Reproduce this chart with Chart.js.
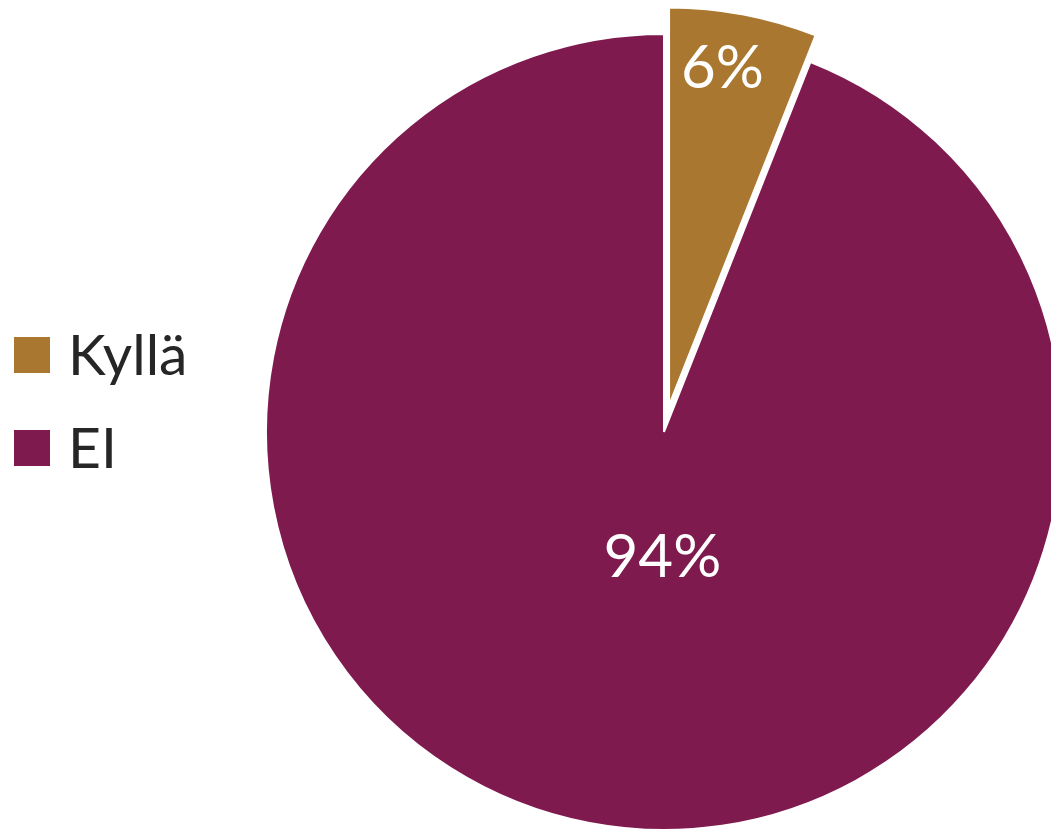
<!DOCTYPE html>
<html>
<head>
<meta charset="utf-8">
<script src="https://cdn.jsdelivr.net/npm/chart.js@4.4.1/dist/chart.umd.min.js"></script>
<style>
    html, body { margin: 0; padding: 0; background: #fff; }
    #wrap { width: 1051px; height: 833px; position: relative; }
</style>
</head>
<body>
<div id="wrap"><canvas id="pieChart"></canvas></div>
<script>
const categories = ["Kyllä", "EI"];
const shares = [6, 94];
const sliceColors = ["#A9772F", "#7F1A4F"];

// how far each slice is pulled out, px
const explode = [27, 0];
// label anchor relative to slice centre, in units of the radius
const labelAnchors = [[0.134, -0.852], [-0.004, 0.31]];

const labelFont = "60px Lato";
const legendFont = "57px Lato";

const pieStyle = {
    id: "pieStyle",
    beforeDatasetDraw(chart, args) {
        const ctx = chart.ctx;
        args.meta.data.forEach((arc, i) => {
            const mid = (arc.startAngle + arc.endAngle) / 2;
            ctx.save();
            ctx.translate(Math.cos(mid) * explode[i], Math.sin(mid) * explode[i]);
            arc.draw(ctx);
            ctx.restore();
        });
        return false;
    },
    afterDatasetsDraw(chart) {
        const ctx = chart.ctx;
        const arcs = chart.getDatasetMeta(0).data;

        // percentage labels
        ctx.save();
        ctx.fillStyle = "#ffffff";
        ctx.font = labelFont;
        ctx.textAlign = "center";
        ctx.textBaseline = "alphabetic";
        arcs.forEach((arc, i) => {
            const mid = (arc.startAngle + arc.endAngle) / 2;
            const cx = arc.x + Math.cos(mid) * explode[i];
            const cy = arc.y + Math.sin(mid) * explode[i];
            const lx = cx + labelAnchors[i][0] * arc.outerRadius;
            const ly = cy + labelAnchors[i][1] * arc.outerRadius;
            ctx.fillText(shares[i] + "%", lx, ly + 22);
        });
        ctx.restore();

        // legend on the left
        ctx.save();
        ctx.font = legendFont;
        ctx.textAlign = "left";
        ctx.textBaseline = "alphabetic";
        categories.forEach((name, i) => {
            const top = 337 + i * 93;
            ctx.fillStyle = sliceColors[i];
            ctx.fillRect(14, top, 36, 36);
            ctx.fillStyle = "#262626";
            ctx.fillText(name, 68, top + 18 + 20);
        });
        ctx.restore();
    },
};

new Chart(document.getElementById("pieChart").getContext("2d"), {
    type: "pie",
    data: {
        labels: categories,
        datasets: [
            {
                data: shares,
                backgroundColor: sliceColors,
                borderColor: "#ffffff",
                borderWidth: 2,
            },
        ],
    },
    options: {
        responsive: true,
        maintainAspectRatio: false,
        animation: false,
        radius: 398,
        layout: {
            padding: { left: 277, top: 31, right: 0, bottom: 0 },
        },
        plugins: {
            legend: { display: false },
            tooltip: { enabled: false },
        },
    },
    plugins: [pieStyle],
});
</script>
</body>
</html>
